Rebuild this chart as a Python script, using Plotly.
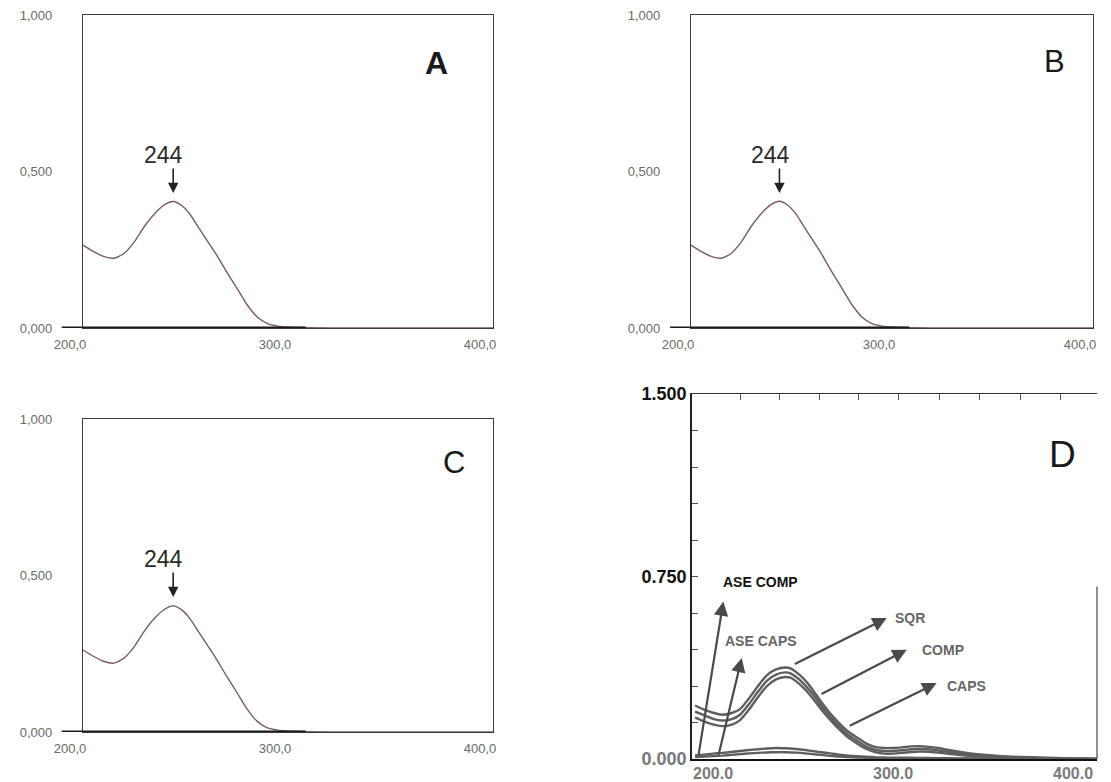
import plotly.graph_objects as go

# ---------------- data: panels A, B, C (same compound, 3 samples) ----------------
WAVELENGTH = [200, 205, 210, 215, 220, 225, 230, 235, 240, 244, 248, 252, 256, 260,
              265, 270, 275, 280, 285, 290, 295, 300, 310, 330, 360, 400]
ABS_A = [0.265, 0.245, 0.229, 0.223, 0.238, 0.275, 0.325, 0.366, 0.395, 0.404, 0.392,
         0.365, 0.325, 0.285, 0.235, 0.180, 0.128, 0.075, 0.035, 0.014, 0.006, 0.003,
         0.001, 0.0, 0.0, 0.0]
ABS_B = [0.265, 0.245, 0.229, 0.223, 0.238, 0.275, 0.325, 0.366, 0.395, 0.405, 0.393,
         0.366, 0.326, 0.286, 0.236, 0.180, 0.128, 0.075, 0.035, 0.014, 0.006, 0.003,
         0.001, 0.0, 0.0, 0.0]
ABS_C = [0.262, 0.242, 0.226, 0.220, 0.236, 0.273, 0.323, 0.364, 0.393, 0.403, 0.391,
         0.364, 0.324, 0.284, 0.234, 0.179, 0.127, 0.074, 0.034, 0.013, 0.006, 0.003,
         0.001, 0.0, 0.0, 0.0]
PEAK_NM = 244
PANEL_LETTERS = ["A", "B", "C", "D"]

ABC_X_TICKS = [200, 300, 400]
ABC_X_TEXT = ["200,0", "300,0", "400,0"]
ABC_Y_TICKS = [0.0, 0.5, 1.0]
ABC_Y_TEXT = ["0,000", "0,500", "1,000"]

# ---------------- data: panel D (overlay) ----------------
D_WAVELENGTH = [190, 195, 200, 205, 210, 215, 220, 225, 230, 235, 240, 243, 246, 250,
                255, 260, 265, 270, 275, 280, 285, 290, 295, 300, 305, 310, 315, 320,
                325, 330, 340, 350, 360, 380, 400, 413]
D_SQR = [0.220, 0.203, 0.190, 0.182, 0.188, 0.205, 0.250, 0.300, 0.345, 0.368, 0.376,
         0.372, 0.358, 0.332, 0.288, 0.235, 0.188, 0.148, 0.113, 0.088, 0.064, 0.050,
         0.045, 0.045, 0.048, 0.052, 0.053, 0.050, 0.045, 0.038, 0.026, 0.018, 0.012,
         0.006, 0.002, 0.0]
D_COMP = [0.195, 0.180, 0.165, 0.158, 0.163, 0.182, 0.226, 0.277, 0.322, 0.347, 0.356,
          0.352, 0.338, 0.312, 0.270, 0.220, 0.175, 0.135, 0.100, 0.075, 0.052, 0.038,
          0.033, 0.033, 0.036, 0.040, 0.042, 0.040, 0.035, 0.030, 0.020, 0.014, 0.009,
          0.004, 0.001, 0.0]
D_CAPS = [0.170, 0.155, 0.142, 0.135, 0.140, 0.160, 0.203, 0.255, 0.300, 0.327, 0.337,
          0.334, 0.320, 0.294, 0.253, 0.205, 0.162, 0.123, 0.089, 0.064, 0.042, 0.028,
          0.022, 0.022, 0.025, 0.029, 0.031, 0.030, 0.026, 0.022, 0.014, 0.010, 0.006,
          0.003, 0.001, 0.0]
D_ASE_COMP = [0.015, 0.018, 0.022, 0.025, 0.029, 0.033, 0.037, 0.040, 0.043, 0.045, 0.044,
              0.043, 0.041, 0.038, 0.033, 0.028, 0.023, 0.018, 0.014, 0.011, 0.009, 0.007,
              0.006, 0.005, 0.005, 0.005, 0.004, 0.004, 0.003, 0.003, 0.002, 0.002, 0.001,
              0.001, 0.0, 0.0]
D_ASE_CAPS = [0.008, 0.010, 0.012, 0.014, 0.017, 0.020, 0.023, 0.025, 0.027, 0.028, 0.028,
              0.027, 0.026, 0.024, 0.020, 0.017, 0.013, 0.010, 0.008, 0.006, 0.005, 0.004,
              0.003, 0.003, 0.003, 0.003, 0.002, 0.002, 0.002, 0.002, 0.001, 0.001, 0.001,
              0.0, 0.0, 0.0]

D_X_TICKS = [200, 300, 400]
D_X_TEXT = ["200.0", "300.0", "400.0"]
D_Y_TICKS = [0.0, 0.15, 0.30, 0.45, 0.60, 0.75, 0.90, 1.05, 1.20, 1.35, 1.50]
D_Y_TEXT = ["<span style='color:#777'>0.000</span>", "", "", "", "", "0.750",
            "", "", "", "", "1.500"]
D_TOP_TICKS = [215, 237, 259, 281, 303, 326, 348, 371, 393]

# label / arrow callouts of panel D (data coordinates)
D_CALLOUTS = [
    dict(text="ASE COMP", tail=(191.8, 0.011), head=(205.7, 0.647), label=(226.1, 0.729), color="#111"),
    dict(text="ASE CAPS", tail=(202.9, 0.011), head=(215.9, 0.415), label=(226.5, 0.483), color="#666"),
    dict(text="SQR", tail=(244.6, 0.387), head=(296.5, 0.579), label=(309.4, 0.580), color="#666"),
    dict(text="COMP", tail=(259.4, 0.264), head=(307.6, 0.449), label=(327.6, 0.449), color="#666"),
    dict(text="CAPS", tail=(275.1, 0.134), head=(324.2, 0.312), label=(340.9, 0.301), color="#666"),
]

# ---------------- styling / layout ----------------
PAGE_OFFSET = 8                      # default body margin of the html page
W, H = 1111 - PAGE_OFFSET, 782 - PAGE_OFFSET
FONT = "Liberation Sans, Arial, sans-serif"
CURVE_COLOR = "#7b5a60"
BOX_COLOR = "#3a3a3a"
D_LINE = "#5e5e5e"


def xdom(left, right):
    return [(left - PAGE_OFFSET) / W, (right - PAGE_OFFSET) / W]


def ydom(top, bottom):
    return [1 - (bottom - PAGE_OFFSET) / H, 1 - (top - PAGE_OFFSET) / H]


fig = go.Figure()

panels = [
    ("", ABS_A, xdom(83, 493), ydom(15, 328)),
    ("2", ABS_B, xdom(691, 1093), ydom(15, 328)),
    ("3", ABS_C, xdom(83, 493), ydom(419, 732)),
]
letter_pos = [(0.895, 0.911, True, 32), (0.935, 0.914, False, 31), (0.937, 0.923, False, 31)]

for i, (suf, vals, xd, yd) in enumerate(panels):
    xa, ya = "x" + suf, "y" + suf
    fig.add_trace(go.Scatter(x=WAVELENGTH, y=vals, mode="lines", xaxis=xa, yaxis=ya,
                             line=dict(color=CURVE_COLOR, width=1.4, shape="spline", smoothing=0.6),
                             showlegend=False, hoverinfo="skip"))
    fig.update_layout(**{
        "xaxis" + suf: dict(domain=xd, anchor=ya, range=[200, 400], tickvals=ABC_X_TICKS,
                            ticktext=ABC_X_TEXT, ticks="", showgrid=False, zeroline=False,
                            showline=True, mirror=True, linecolor=BOX_COLOR, linewidth=1.3,
                            tickfont=dict(family=FONT, size=13, color="#6a6a6a"),
                            ticklabelshift=-13, ticklabelstandoff=4, automargin=False,
                            ticklabeloverflow="allow"),
        "yaxis" + suf: dict(domain=yd, anchor=xa, range=[0, 1.0], tickvals=ABC_Y_TICKS,
                            ticktext=ABC_Y_TEXT, ticks="", showgrid=False, zeroline=False,
                            showline=True, mirror=True, linecolor=BOX_COLOR, linewidth=1.3,
                            tickfont=dict(family=FONT, size=13, color="#6a6a6a"),
                            ticklabelstandoff=27, automargin=False, ticklabeloverflow="allow"),
    })
    # thick baseline extending left of the frame
    fig.add_shape(type="line", xref=xa + " domain", yref=ya, x0=-0.052, x1=0.543, y0=0, y1=0,
                  line=dict(color="#1a1a1a", width=3))
    # 244 arrow and label
    fig.add_annotation(xref=xa, yref=ya, x=PEAK_NM, y=0.431, ax=PEAK_NM, ay=0.514,
                       axref=xa, ayref=ya, text="", showarrow=True, arrowhead=2,
                       arrowsize=1.3, arrowwidth=1.6, arrowcolor="#222")
    fig.add_annotation(xref=xa, yref=ya, x=PEAK_NM - 4.5, y=0.553, text=str(PEAK_NM),
                       showarrow=False, font=dict(family=FONT, size=23, color="#2a2a2a"))
    lx, ly, bold, fs = letter_pos[i]
    txt = "<b>%s</b>" % PANEL_LETTERS[i] if bold else PANEL_LETTERS[i]
    fig.add_annotation(xref=xa + " domain", yref=ya + " domain", x=lx, y=ly, text=txt,
                       showarrow=False, font=dict(family=FONT, size=fs, color="#1a1a1a"))

# ---------------- panel D ----------------
D_XRANGE = [188.3, 413.3]
D_YRANGE = [0, 1.5]
d_series = [(D_SQR, "x4"), (D_COMP, "x4"), (D_CAPS, "x4"), (D_ASE_COMP, "x4"), (D_ASE_CAPS, "x5")]
for vals, xa in d_series:
    fig.add_trace(go.Scatter(x=D_WAVELENGTH, y=vals, mode="lines", xaxis=xa, yaxis="y4",
                             line=dict(color=D_LINE, width=2.4, shape="spline", smoothing=0.6),
                             showlegend=False, hoverinfo="skip"))

fig.update_layout(
    xaxis4=dict(domain=xdom(692, 1097), anchor="y4", range=D_XRANGE, tickvals=D_X_TICKS,
                ticktext=D_X_TEXT, ticks="", showgrid=False, zeroline=False, showline=True,
                linecolor="#111", linewidth=2.4, automargin=False, ticklabelstandoff=-1,
                ticklabeloverflow="allow",
                tickfont=dict(family=FONT, size=16, color="#7a7a7a", weight="bold")),
    xaxis5=dict(overlaying="x4", anchor="y4", side="top", range=D_XRANGE, tickvals=D_TOP_TICKS,
                showticklabels=False, ticks="inside", ticklen=6, tickcolor="#555", tickwidth=1,
                showgrid=False, zeroline=False, showline=True, linecolor="#333", linewidth=1.2,
                automargin=False),
    yaxis4=dict(domain=ydom(394, 759), anchor="x4", range=D_YRANGE, tickvals=D_Y_TICKS,
                ticktext=D_Y_TEXT, ticks="inside", ticklen=6, tickcolor="#555", tickwidth=1,
                showgrid=False, zeroline=False, showline=True, linecolor="#222", linewidth=1.6,
                automargin=False, ticklabeloverflow="allow",
                tickfont=dict(family=FONT, size=18, color="#111", weight="bold")),
)
# partial right border of panel D
fig.add_shape(type="line", xref="x4 domain", yref="y4", x0=1, x1=1, y0=0, y1=0.709,
              line=dict(color="#555", width=1.3))

for c in D_CALLOUTS:
    fig.add_annotation(xref="x4", yref="y4", x=c["head"][0], y=c["head"][1],
                       ax=c["tail"][0], ay=c["tail"][1], axref="x4", ayref="y4", text="",
                       showarrow=True, arrowhead=2, arrowsize=1.3, arrowwidth=2.2,
                       arrowcolor="#4a4a4a")
    fig.add_annotation(xref="x4", yref="y4", x=c["label"][0], y=c["label"][1],
                       text="<b>%s</b>" % c["text"], showarrow=False,
                       font=dict(family=FONT, size=14, color=c["color"]))

fig.add_annotation(xref="x4 domain", yref="y4 domain", x=0.953, y=0.896, text=PANEL_LETTERS[3],
                   showarrow=False, font=dict(family=FONT, size=37, color="#1a1a1a"))

fig.update_layout(width=W, height=H, margin=dict(l=0, r=0, t=0, b=0),
                  paper_bgcolor="white", plot_bgcolor="white", showlegend=False)

fig.write_html("out.html")
